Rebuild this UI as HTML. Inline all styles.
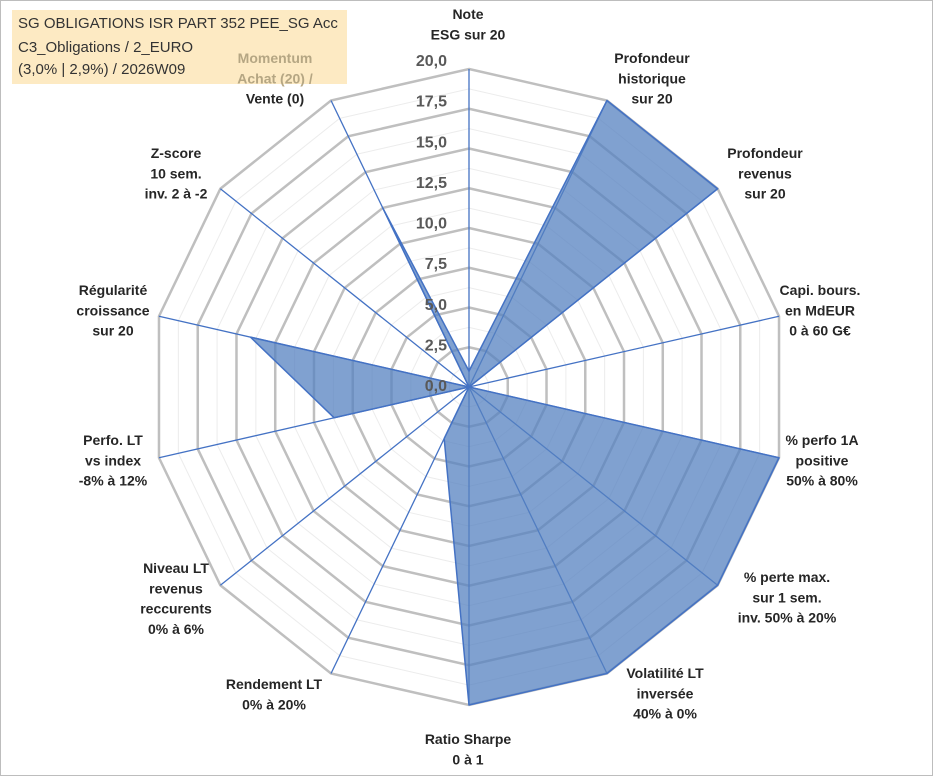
<!DOCTYPE html>
<html><head><meta charset="utf-8">
<style>
html,body{margin:0;padding:0;background:#fff;}
body{width:933px;height:776px;overflow:hidden;position:relative;font-family:"Liberation Sans",sans-serif;}
#frame{position:absolute;left:0;top:0;width:931px;height:774px;border:1px solid #bdbdbd;}
#title{position:absolute;left:12px;top:10px;width:335px;height:74px;background:#fdeac3;}
.tl{position:absolute;left:6px;font-size:15px;color:#333;white-space:nowrap;font-family:"Liberation Sans",sans-serif;}
svg{position:absolute;left:0;top:0;}
</style></head><body>
<div id="frame"></div>
<div id="title">
 <div class="tl" style="top:5px">SG OBLIGATIONS ISR PART 352 PEE_SG Acc</div>
 <div class="tl" style="top:29px">C3_Obligations / 2_EURO</div>
 <div class="tl" style="top:51px">(3,0% | 2,9%) / 2026W09</div>
</div>
<svg id="chart" width="933" height="776"></svg>
<script>
const categories = [
 ["Note","ESG sur 20"],
 ["Profondeur","historique","sur 20"],
 ["Profondeur","revenus","sur 20"],
 ["Capi. bours.","en MdEUR","0 à 60 G€"],
 ["% perfo 1A","positive","50% à 80%"],
 ["% perte max.","sur 1 sem.","inv. 50% à 20%"],
 ["Volatilité LT","inversée","40% à 0%"],
 ["Ratio Sharpe","0 à 1"],
 ["Rendement LT","0% à 20%"],
 ["Niveau LT","revenus","reccurents","0% à 6%"],
 ["Perfo. LT","vs index","-8% à 12%"],
 ["Régularité","croissance","sur 20"],
 ["Z-score","10 sem.","inv. 2 à -2"],
 ["Momentum","Achat (20) /","Vente (0)"]
];
const values = [1,20,20,0,20,20,20,20,3.6,0,8.7,14.1,0,12.5];
const tickLabels = ["0,0","2,5","5,0","7,5","10,0","12,5","15,0","17,5","20,0"];
const maxValue = 20;

const NS="http://www.w3.org/2000/svg";
const svg=document.getElementById('chart');
const cx=469, cy=387, R=318;
const labelPos=[[468,14],[652,58],[765,153],[820,290],[822,440],[787,577],[665,673],[468,739],[274,684],[176,568],[113,440],[113,290],[176,153],[275,58]];
const N=categories.length;
function ang(i){return i*2*Math.PI/N;}
function pt(i,v){const r=v/maxValue*R;return [cx+r*Math.sin(ang(i)), cy-r*Math.cos(ang(i))];}
function mk(tag,attrs){const e=document.createElementNS(NS,tag);for(const k in attrs)e.setAttribute(k,attrs[k]);return e;}

for(let s=1;s<=16;s++){
 if(s%2===0)continue;
 const v=s*maxValue/16;
 const p=mk('polygon',{points:categories.map((c,i)=>pt(i,v).join(',')).join(' '),fill:'none',stroke:'#ececec','stroke-width':1});
 
 
 svg.appendChild(p);
}
tickLabels.forEach((t,k)=>{
 if(k===0)return;
 const v=k*maxValue/(tickLabels.length-1);
 const p=mk('polygon',{points:categories.map((c,i)=>pt(i,v).join(',')).join(' '),fill:'none',stroke:'#bfbfbf','stroke-width':2.5});
 
 
 svg.appendChild(p);
});
categories.forEach((c,i)=>{
 const e=pt(i,maxValue);
 const l=mk('line',{x1:cx,y1:cy,x2:e[0],y2:e[1],stroke:'#4472c4','stroke-width':1.3});
 
 
 svg.appendChild(l);
});
const poly=mk('polygon',{points:values.map((v,i)=>pt(i,v).join(',')).join(' '),fill:'#5582c0','fill-opacity':0.75,stroke:'#4472c4','stroke-width':1.5,'stroke-linejoin':'round'});


svg.appendChild(poly);
tickLabels.forEach((t,k)=>{
 const y=386-k*(386-61)/(tickLabels.length-1)+5;
 const tx=mk('text',{x:447,y:y,'text-anchor':'end','font-size':16,'font-weight':'bold',fill:'#595959','font-family':'Liberation Sans, sans-serif'});
 tx.textContent=t;
 
 
 svg.appendChild(tx);
});
categories.forEach((lines,i)=>{
 const [x,y]=labelPos[i];
 const g=mk('text',{x:x,y:y,'text-anchor':'middle','font-size':14,'font-weight':'bold','font-family':'Liberation Sans, sans-serif'});
 
 
 lines.forEach((ln,j)=>{
  const ts=mk('tspan',{x:x,y:y+5+j*20.3,fill:(i===13&&j<2)?'#b5a683':'#262626'});
  ts.textContent=ln;
  g.appendChild(ts);
 });
 svg.appendChild(g);
});
</script>
</body></html>
